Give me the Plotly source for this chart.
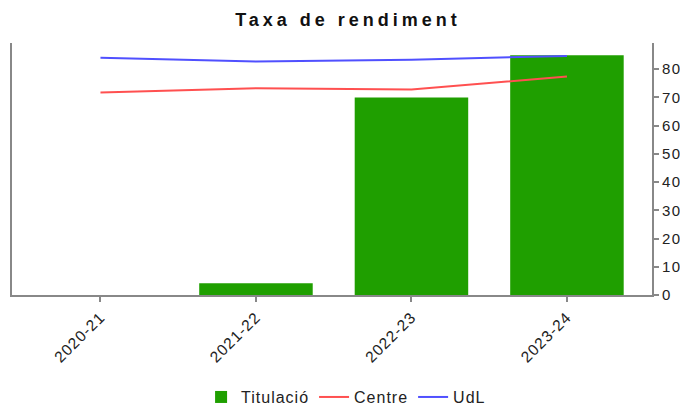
import plotly.graph_objects as go

years = ["2020-21", "2021-22", "2022-23", "2023-24"]
titulacio = [None, 4.2, 70.0, 85.0]
centre = [71.8, 73.3, 72.8, 77.4]
udl = [84.1, 82.7, 83.4, 84.7]
y_ticks = [0, 10, 20, 30, 40, 50, 60, 70, 80]


def spaced(text, px):
    return f'<span style="letter-spacing:{px}px">{text}</span>'


fig = go.Figure()
fig.add_trace(go.Bar(x=years, y=titulacio, name=spaced("Titulació", 1), marker_color="#1f9f00",
                     width=0.73, marker_line_width=0))
fig.add_trace(go.Scatter(x=years, y=centre, name=spaced("Centre", 1), mode="lines",
                         line=dict(color="#ff5050", width=2)))
fig.add_trace(go.Scatter(x=years, y=udl, name=spaced("UdL", 1), mode="lines",
                         line=dict(color="#5050ff", width=2)))

# page body adds ~8px offset, so the figure is sized to fit the window
fig.update_layout(
    width=680, height=397,
    margin=dict(l=4, r=36, t=35, b=110),
    paper_bgcolor="white", plot_bgcolor="white",
    font=dict(family="Liberation Sans, Arial, sans-serif", color="#222"),
    title=dict(text="<b>" + spaced("Taxa de rendiment", 4) + "</b>", x=0.5, xanchor="center",
               y=0.97, yanchor="middle", yref="container",
               font=dict(size=18, color="#111")),
    showlegend=True,
    legend=dict(orientation="h", x=0.522, xanchor="center", y=0.02, yanchor="middle",
                yref="container",
                font=dict(size=16, color="#222"), traceorder="normal"),
)
fig.update_xaxes(
    type="category", range=[-0.569, 3.547], automargin=False,
    tickvals=years, ticktext=[spaced(y, 1) for y in years],
    showline=True, linecolor="#888", linewidth=2,
    ticks="outside", ticklen=5, tickcolor="#888", tickwidth=2,
    tickangle=-45, tickfont=dict(size=15.5, color="#222"),
    showgrid=False, zeroline=False,
)
fig.update_yaxes(
    side="right", range=[0, 89.3], automargin=False,
    tickvals=y_ticks, ticktext=[spaced(str(v), 1.5) for v in y_ticks],
    showline=True, linecolor="#888", linewidth=2, mirror=True,
    ticks="outside", ticklen=5, tickcolor="#888", tickwidth=2,
    tickfont=dict(size=15, color="#222"),
    showgrid=False, zeroline=False,
)

fig.write_html("out.html")
